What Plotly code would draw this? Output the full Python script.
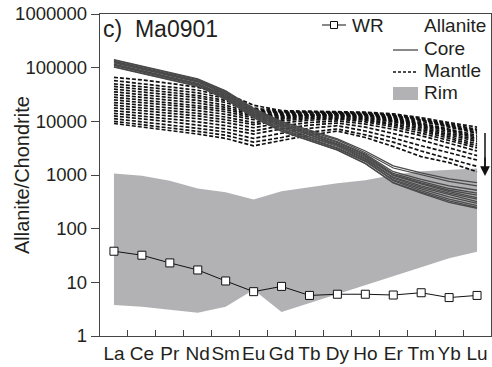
import plotly.graph_objects as go

elements = ["La", "Ce", "Pr", "Nd", "Sm", "Eu", "Gd", "Tb", "Dy", "Ho", "Er", "Tm", "Yb", "Lu"]

wr = [38, 32, 23, 17, 10.6, 6.7, 8.4, 5.7, 6.0, 6.0, 5.8, 6.4, 5.2, 5.7]

rim_upper = [1070, 970, 780, 560, 475, 350, 500, 600, 700, 800, 1000, 1170, 1260, 1320]
rim_lower = [3.8, 3.5, 3.1, 2.7, 3.5, 7.3, 2.8, 4.2, 6.1, 8.9, 13, 19, 28, 37]

core_1 = [141000, 107000, 81000, 62000, 37000, 17400, 10000, 6800, 4700, 2800, 1480, 1100, 850, 720]
core_2 = [138000, 105000, 79000, 60000, 36300, 17000, 9800, 6500, 4500, 2600, 1350, 1000, 760, 630]
core_3 = [132000, 100000, 76000, 57500, 34700, 16200, 9300, 6200, 4200, 2450, 1150, 830, 630, 520]
core_4 = [129000, 98000, 74000, 56000, 33100, 15800, 8900, 5900, 4000, 2350, 1070, 760, 560, 460]
core_5 = [126000, 95000, 72000, 55000, 32400, 15100, 8500, 5600, 3800, 2240, 1020, 710, 520, 420]
core_6 = [123000, 93000, 71000, 54000, 31600, 14800, 8300, 5500, 3700, 2140, 980, 680, 490, 380]
core_7 = [117000, 89000, 68000, 51000, 30200, 14100, 7900, 5200, 3550, 2040, 910, 630, 460, 355]
core_8 = [115000, 87000, 66000, 50000, 29500, 13800, 7600, 5000, 3400, 1950, 870, 590, 430, 320]
core_9 = [112000, 85000, 65000, 49000, 28200, 13200, 7200, 4800, 3200, 1860, 810, 550, 390, 295]
core_10 = [110000, 83000, 63000, 48000, 27500, 12600, 6900, 4600, 3100, 1780, 780, 510, 355, 270]
core_11 = [105000, 79000, 60000, 46000, 26300, 12000, 6600, 4400, 2950, 1660, 720, 480, 330, 250]
core_12 = [102000, 78000, 59000, 45000, 25700, 11700, 6500, 4300, 2900, 1620, 710, 460, 310, 240]
core = [core_1, core_2, core_3, core_4, core_5, core_6, core_7, core_8, core_9, core_10, core_11, core_12]

mantle_1 = [66000, 59000, 51000, 43000, 33000, 20000, 15800, 15500, 15100, 14800, 13800, 11700, 9500, 7800]
mantle_2 = [57500, 50000, 44700, 38000, 29500, 17800, 15100, 15100, 14800, 14500, 13200, 11200, 8900, 7100]
mantle_3 = [50000, 44700, 38900, 33900, 26900, 16600, 14800, 14800, 14500, 14100, 12900, 10700, 8500, 6800]
mantle_4 = [44700, 39800, 34700, 30200, 24500, 15800, 14500, 14500, 14500, 13800, 12600, 10500, 8100, 6300]
mantle_5 = [39800, 35500, 30900, 27500, 22400, 15100, 14100, 14500, 14100, 13500, 12000, 10000, 7800, 6000]
mantle_6 = [35500, 31600, 27500, 24500, 20000, 14100, 13500, 13800, 13800, 13200, 11500, 9300, 7200, 5500]
mantle_7 = [31600, 28200, 25100, 21900, 18200, 13200, 13200, 13500, 13500, 12900, 11200, 8900, 6900, 5100]
mantle_8 = [28200, 25100, 22400, 19500, 16600, 12600, 12600, 13200, 13200, 12600, 10700, 8500, 6500, 4800]
mantle_9 = [25100, 22400, 20000, 17800, 15100, 11700, 12000, 12900, 12900, 12000, 10200, 8100, 6000, 4500]
mantle_10 = [22400, 20000, 17800, 15800, 13500, 10700, 11500, 12300, 12600, 11500, 9800, 7600, 5600, 4200]
mantle_11 = [20000, 17800, 15800, 14100, 12000, 9500, 11000, 11700, 12000, 11000, 9100, 7100, 5200, 3800]
mantle_12 = [17800, 15800, 14100, 12600, 10700, 8700, 10200, 11200, 11500, 10500, 8500, 6600, 4800, 3500]
mantle_13 = [15800, 14100, 12600, 11200, 9500, 7600, 9300, 10500, 11000, 9800, 7900, 6000, 4400, 3200]
mantle_14 = [14100, 12600, 11000, 9800, 8300, 6600, 8300, 9500, 10200, 8900, 7100, 5400, 3900, 2800]
mantle_15 = [12600, 11200, 9800, 8500, 7200, 5800, 7200, 8500, 9300, 7800, 6000, 4500, 3200, 2300]
mantle_16 = [11200, 9800, 8700, 7400, 6300, 4800, 6000, 7400, 8300, 6600, 4900, 3500, 2600, 1900]
mantle_17 = [10000, 8700, 7600, 6500, 5500, 4100, 5000, 6300, 7200, 5600, 4100, 2800, 2000, 1450]
mantle_18 = [9100, 7900, 6800, 5800, 4800, 3500, 4400, 5500, 6600, 5000, 3400, 2200, 1700, 1150]
mantle = [mantle_1, mantle_2, mantle_3, mantle_4, mantle_5, mantle_6, mantle_7, mantle_8, mantle_9,
          mantle_10, mantle_11, mantle_12, mantle_13, mantle_14, mantle_15, mantle_16, mantle_17, mantle_18]

y_tick_values = [1, 10, 100, 1000, 10000, 100000, 1000000]
y_tick_labels = ["1", "10", "100", "1000", "10000", "100000", "1000000"]

FONT = "Liberation Sans, Arial, Helvetica, sans-serif"
TXT = "#231f20"
RIM_COLOR = "#b2b2b5"
CORE_COLOR = "#4a4a4a"
MANTLE_COLOR = "#111111"
MANTLE_DASH = "4px,2px"

fig = go.Figure()

# Rim envelope
fig.add_trace(go.Scatter(
    x=elements + elements[::-1],
    y=rim_upper + rim_lower[::-1],
    fill="toself", fillcolor=RIM_COLOR, mode="lines",
    line=dict(width=0, color=RIM_COLOR), hoverinfo="skip", showlegend=False))

# Mantle (dashed)
for m in mantle:
    fig.add_trace(go.Scatter(x=elements, y=m, mode="lines",
                             line=dict(color=MANTLE_COLOR, width=1.7, dash=MANTLE_DASH),
                             showlegend=False))

# Core (solid)
for c in core:
    fig.add_trace(go.Scatter(x=elements, y=c, mode="lines",
                             line=dict(color=CORE_COLOR, width=1.3),
                             showlegend=False))

# Whole rock
fig.add_trace(go.Scatter(x=elements, y=wr, mode="lines+markers",
                         line=dict(color="#111111", width=1),
                         marker=dict(symbol="square", size=8, color="white",
                                     line=dict(color="#111111", width=1)),
                         showlegend=False))

W, H = 492, 367
L, R, T, B = 100, 491, 14, 336   # plot area in pixels
def px(x):
    return (x - L) / (R - L)
def py(y):
    return (B - y) / (B - T)

shapes = [
    dict(type="line", xref="paper", yref="paper", x0=px(322), x1=px(346), y0=py(25), y1=py(25),
         line=dict(color="#111111", width=1)),
    dict(type="rect", xref="paper", yref="paper", x0=px(330.5), x1=px(337.5), y0=py(28.5), y1=py(21.5),
         line=dict(color="#111111", width=1), fillcolor="white"),
    dict(type="line", xref="paper", yref="paper", x0=px(393), x1=px(418), y0=py(50), y1=py(50),
         line=dict(color=CORE_COLOR, width=1.3)),
    dict(type="line", xref="paper", yref="paper", x0=px(393), x1=px(418), y0=py(72), y1=py(72),
         line=dict(color=MANTLE_COLOR, width=1.3, dash="3px,2px")),
    dict(type="rect", xref="paper", yref="paper", x0=px(393), x1=px(418), y0=py(100), y1=py(87),
         line=dict(width=0), fillcolor=RIM_COLOR),
    # downward arrow shaft (arrow head added as annotation below)
    dict(type="line", xref="paper", yref="paper", x0=px(485), x1=px(485), y0=py(133), y1=py(168),
         line=dict(color="#111111", width=1.5)),
]

annotations = [
    dict(text="c)  Ma0901", xref="paper", yref="paper", x=px(101), y=py(29), xanchor="left", yanchor="middle",
         showarrow=False, font=dict(family=FONT, size=23, color=TXT)),
    dict(text="WR", xref="paper", yref="paper", x=px(350), y=py(25), xanchor="left", yanchor="middle",
         showarrow=False, font=dict(family=FONT, size=19, color=TXT)),
    dict(text="Allanite", xref="paper", yref="paper", x=px(422), y=py(25), xanchor="left", yanchor="middle",
         showarrow=False, font=dict(family=FONT, size=19, color=TXT)),
    dict(text="Core", xref="paper", yref="paper", x=px(422), y=py(48.5), xanchor="left", yanchor="middle",
         showarrow=False, font=dict(family=FONT, size=19, color=TXT)),
    dict(text="Mantle", xref="paper", yref="paper", x=px(422), y=py(70.5), xanchor="left", yanchor="middle",
         showarrow=False, font=dict(family=FONT, size=19, color=TXT)),
    dict(text="Rim", xref="paper", yref="paper", x=px(422), y=py(92.5), xanchor="left", yanchor="middle",
         showarrow=False, font=dict(family=FONT, size=19, color=TXT)),
    dict(text="Allanite/Chondrite", xref="paper", yref="paper", x=px(22), y=0.5, xanchor="center",
         yanchor="middle", textangle=-90, showarrow=False, font=dict(family=FONT, size=20, color=TXT)),
    dict(text="", xref="paper", yref="paper", x=px(485), y=py(176), showarrow=True, ax=0, ay=-20,
         arrowhead=2, arrowsize=1.3, arrowwidth=1.5, arrowcolor="#111111", standoff=0),
]

fig.update_layout(
    width=W, height=H,
    margin=dict(l=L, r=W - R, t=T, b=H - B, autoexpand=False),
    paper_bgcolor="white", plot_bgcolor="white",
    showlegend=False,
    font=dict(family=FONT, size=19, color=TXT),
    shapes=shapes, annotations=annotations,
    xaxis=dict(type="category", categoryorder="array", categoryarray=elements,
               range=[-0.5, 13.5], tickson="boundaries", ticks="inside", ticklen=6,
               tickcolor="#444", tickwidth=1.2, tickangle=0, automargin=False,
               showline=True, linecolor="#444", linewidth=1.3, mirror=True,
               showgrid=False, zeroline=False, tickfont=dict(family=FONT, size=19, color=TXT)),
    yaxis=dict(type="log", range=[0, 6], tickvals=y_tick_values, ticktext=y_tick_labels,
               ticks="outside", ticklen=8, tickcolor="#444", tickwidth=1.2, automargin=False,
               showline=True, linecolor="#444", linewidth=1.3, mirror=True,
               showgrid=False, zeroline=False, tickfont=dict(family=FONT, size=18.5, color=TXT)),
)

fig.write_html("out.html",
               config={"displayModeBar": False},
               post_script="document.body.style.margin='0';document.body.style.overflow='hidden';")
